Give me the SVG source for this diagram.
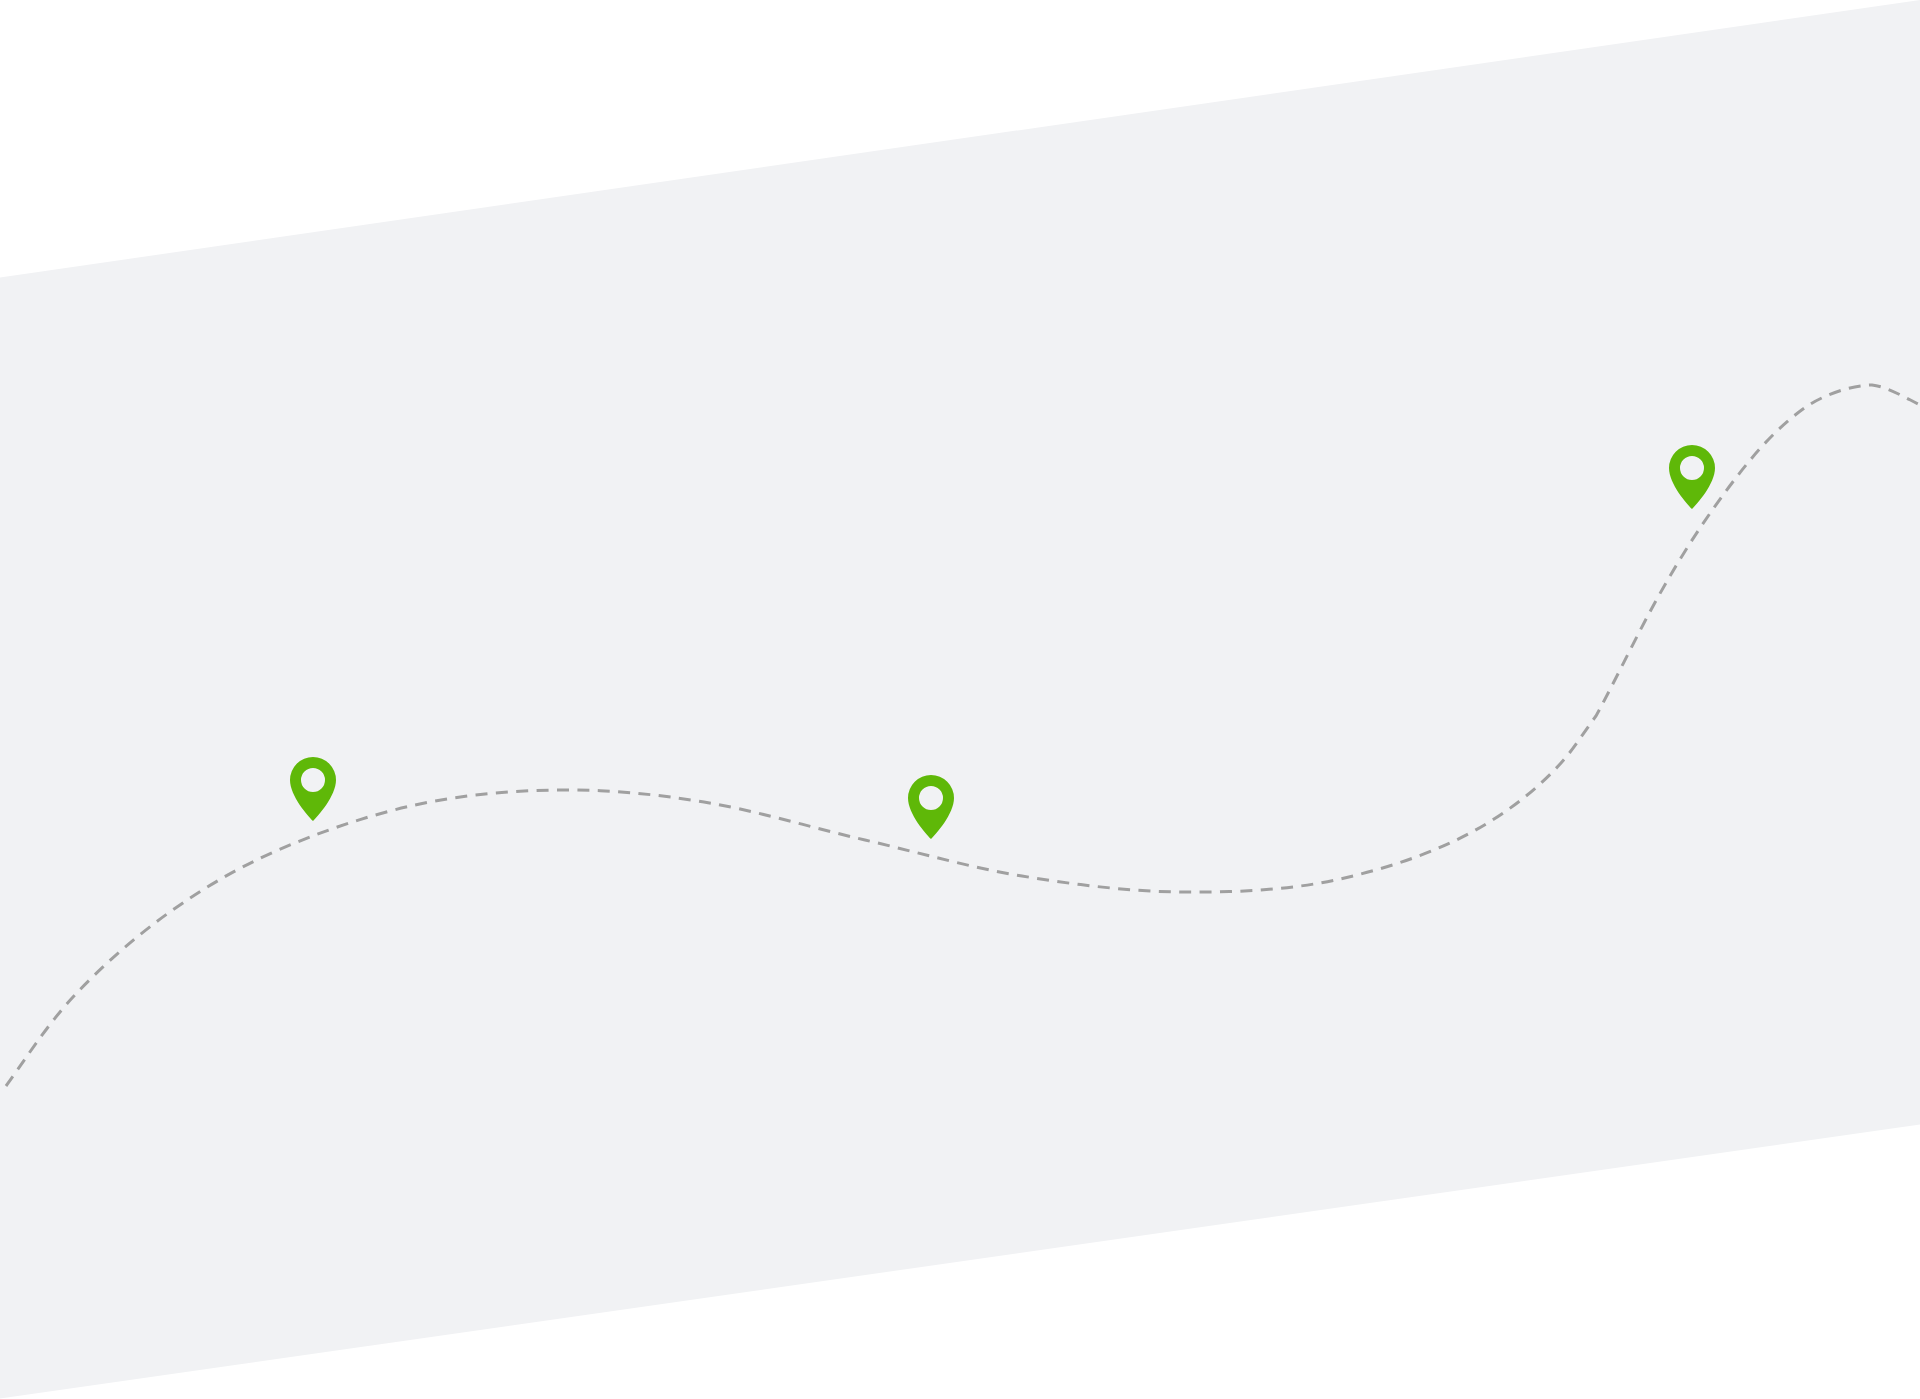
<svg xmlns="http://www.w3.org/2000/svg" width="1920" height="1399" viewBox="0 0 1920 1399">
  <style>
    .route { fill: none; stroke: #a0a0a0; stroke-width: 3; stroke-dasharray: 12 8.4; }
    .pin { fill: #5fb808; fill-rule: evenodd; }
  </style>
  <defs>
    <path id="pin-shape" class="pin" d="M0,41 C-5,36 -23,16 -23,0 A23,23 0 1 1 23,0 C23,16 5,36 0,41 Z M12,0 A12,12 0 1 0 -12,0 A12,12 0 1 0 12,0 Z"/>
  </defs>
  <rect width="1920" height="1399" fill="#ffffff"/>
  <polygon id="band" points="0,277.5 1920,0 1920,1124.5 0,1398.5" fill="#f1f2f4"/>
  <g id="connectors">
    <path class="route" d="M6,1086 C17.2,1071.2 46.2,1025.7 73,997 C99.8,968.3 133.2,938.3 167,914 C200.8,889.7 234.7,869.2 276,851 C317.3,832.8 367.8,815.2 415,805 C462.2,794.8 510.8,790.5 559,790 C607.2,789.5 653,793.7 704,802 C755,810.3 812,827.7 865,840 C918,852.3 969.2,867.3 1022,876 C1074.8,884.7 1129,891.5 1182,892 C1235,892.5 1289.3,890.3 1340,879 C1390.7,867.7 1443,850 1486,824 C1513.5,807.4 1539.6,786.7 1561,763 C1573.7,749 1584.6,731.2 1596,716 C1615,681 1633,643 1652,608 C1674.8,565.8 1700.2,525.4 1729,487 C1750.6,458.2 1774,430 1803,409 C1821.6,395.5 1849,385.5 1872,385 C1888,387 1904,397 1920,405"/>
  </g>
  <g id="pin-1"><use href="#pin-shape" x="313" y="780"/></g>
  <g id="pin-2"><use href="#pin-shape" x="931" y="798"/></g>
  <g id="pin-3"><use href="#pin-shape" x="1692" y="468"/></g>
</svg>
